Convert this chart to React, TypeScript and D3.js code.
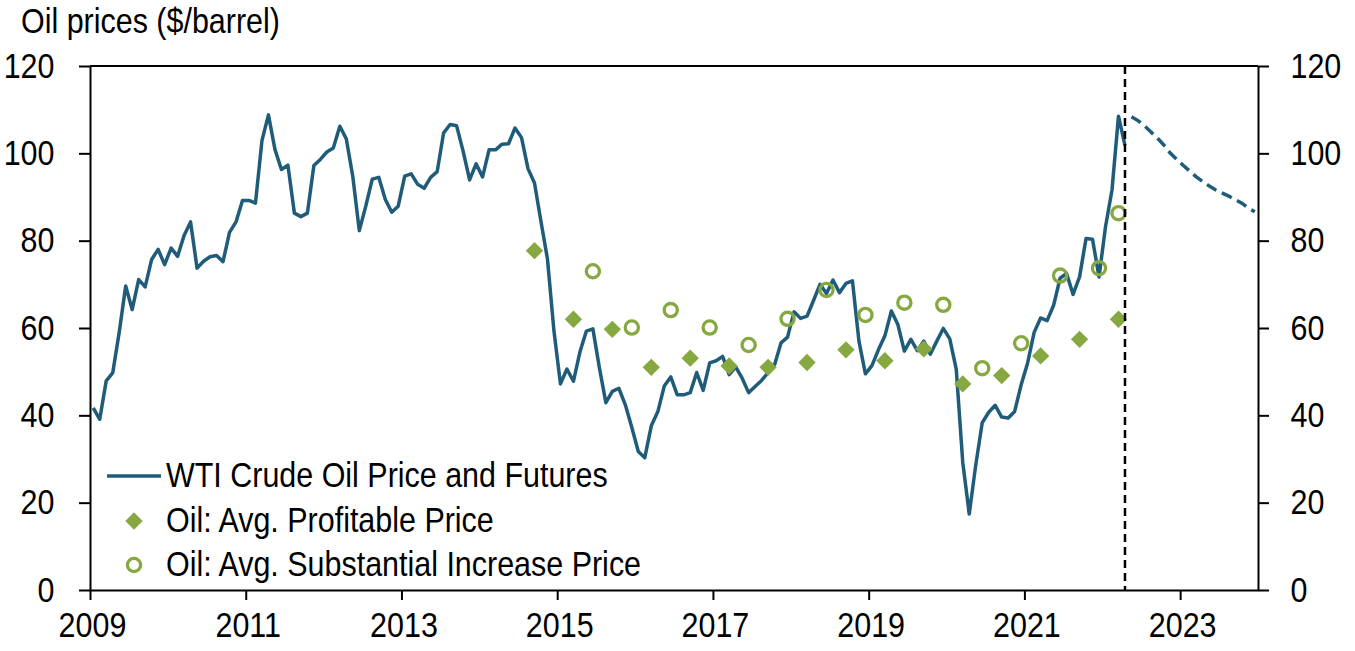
import { useRef, useEffect } from 'react'
import * as d3 from 'd3'

// WTI monthly averages, Jan 2009 .. Apr 2022 ($/barrel)
const WTI_START = 2009
const WTI = [
  41.7, 39.1, 47.9, 49.7, 59.0, 69.6, 64.2, 71.1, 69.4, 75.7, 78.0, 74.5,
  78.3, 76.4, 81.2, 84.3, 73.7, 75.3, 76.3, 76.6, 75.2, 81.9, 84.3, 89.2,
  89.2, 88.6, 102.9, 108.8, 100.9, 96.3, 97.3, 86.3, 85.5, 86.3, 97.2, 98.6,
  100.3, 101.2, 106.2, 103.3, 94.7, 82.3, 87.9, 94.1, 94.5, 89.5, 86.5, 87.9,
  94.8, 95.3, 92.9, 92.0, 94.5, 95.8, 104.7, 106.6, 106.3, 100.5, 93.9, 97.6,
  94.6, 100.8, 100.8, 102.1, 102.2, 105.8, 103.6, 96.5, 93.2, 84.4, 75.8, 59.3,
  47.2, 50.6, 47.8, 54.5, 59.3, 59.8, 50.9, 42.9, 45.5, 46.2, 42.4, 37.2,
  31.7, 30.3, 37.6, 40.8, 46.7, 48.8, 44.7, 44.7, 45.2, 49.8, 45.7, 52.0,
  52.5, 53.5, 49.3, 51.1, 48.5, 45.2, 46.6, 48.0, 49.8, 51.6, 56.6, 57.9,
  63.7, 62.2, 62.7, 66.3, 70.0, 67.9, 71.0, 68.1, 70.2, 70.8, 57.0, 49.5,
  51.4, 55.0, 58.2, 63.9, 60.8, 54.7, 57.4, 54.8, 57.0, 54.0, 57.0, 59.9,
  57.5, 50.5, 29.2, 17.4, 28.6, 38.3, 40.7, 42.3, 39.6, 39.4, 40.9, 47.0,
  52.0, 59.0, 62.3, 61.7, 65.2, 71.4, 72.5, 67.7, 71.7, 80.5, 80.3, 71.7,
  83.2, 91.6, 108.5, 101.8,
]

// futures strip, May 2022 .. Dec 2023
const FUTURES_START = '2022-05'
const FUTURES = [
  108.4, 107.5, 106.3, 104.9, 103.5, 101.9, 100.0, 98.6, 97.2, 95.9,
  94.6, 93.5, 92.5, 91.6, 90.9, 90.2, 89.4, 88.6, 87.5, 86.6,
]

const PROFIT_DATES = [
  '2014-09', '2015-03', '2015-09', '2016-03', '2016-09', '2017-03', '2017-09', '2018-03',
  '2018-09', '2019-03', '2019-09', '2020-03', '2020-09', '2021-03', '2021-09', '2022-03',
]
const PROFIT = [77.7, 62.0, 59.7, 51.0, 53.1, 51.3, 51.0, 52.1, 55.0, 52.5, 55.2, 47.2, 49.1, 53.6, 57.4, 62.0]

const INCREASE_DATES = [
  '2015-06', '2015-12', '2016-06', '2016-12', '2017-06', '2017-12', '2018-06', '2018-12',
  '2019-06', '2019-12', '2020-06', '2020-12', '2021-06', '2021-12', '2022-03',
]
const INCREASE = [73.0, 60.1, 64.1, 60.1, 56.1, 62.1, 68.7, 63.0, 65.8, 65.3, 50.8, 56.5, 72.0, 73.7, 86.3]

const FORECAST_START = '2022-04'
const YEAR_TICKS = [2009, 2011, 2013, 2015, 2017, 2019, 2021, 2023]
const Y_TICKS = [0, 20, 40, 60, 80, 100, 120]

const LEGEND = [
  'WTI Crude Oil Price and Futures',
  'Oil: Avg. Profitable Price',
  'Oil: Avg. Substantial Increase Price',
]

const W = 1355
const H = 651
const M = { top: 66, right: 97, bottom: 61, left: 90 }
const BLUE = '#1f5c7a'
const GREEN = '#86a840'
const FONT = "'Liberation Sans', Arial, sans-serif"
const FS = 35
// no narrow face installed: squeeze the regular one horizontally
const NARROW = 0.87

// 'YYYY-MM' -> decimal year at mid-month
const toYear = (s: string) => {
  const [y, m] = s.split('-').map(Number)
  return y + (m - 0.5) / 12
}

export default function App() {
  const svgRef = useRef<SVGSVGElement>(null)

  useEffect(() => {
    const svg = d3.select(svgRef.current)
    svg.selectAll('*').remove()

    const x = d3.scaleLinear().domain([2009, 2024]).range([M.left, W - M.right])
    const y = d3.scaleLinear().domain([0, 120]).range([H - M.bottom, M.top])

    const wti = WTI.map((v, i) => ({ t: WTI_START + (i + 0.5) / 12, v }))
    const f0 = toYear(FUTURES_START)
    const fut = FUTURES.map((v, i) => ({ t: f0 + i / 12, v }))

    const styleAxis = (sel: any) => {
      sel.select('.domain').attr('stroke', '#000').attr('stroke-width', 2)
      sel.selectAll('.tick line').attr('stroke', '#000').attr('stroke-width', 2)
      sel.selectAll('.tick text')
        .attr('fill', '#000')
        .attr('font-family', FONT)
        .attr('font-size', FS)
    }

    // top frame line
    svg.append('line')
      .attr('x1', M.left).attr('x2', W - M.right)
      .attr('y1', M.top).attr('y2', M.top)
      .attr('stroke', '#000').attr('stroke-width', 2)

    svg.append('g')
      .attr('transform', `translate(${M.left},0)`)
      .call(d3.axisLeft(y).tickValues(Y_TICKS).tickSize(11).tickSizeOuter(0).tickPadding(24.5))
      .call(styleAxis)

    svg.append('g')
      .attr('transform', `translate(${W - M.right},0)`)
      .call(d3.axisRight(y).tickValues(Y_TICKS).tickSize(11).tickSizeOuter(0).tickPadding(21.5))
      .call(styleAxis)

    svg.append('g')
      .attr('transform', `translate(0,${H - M.bottom})`)
      .call(d3.axisBottom(x).tickValues(YEAR_TICKS).tickFormat(d3.format('d')).tickSize(10).tickSizeOuter(0).tickPadding(11.7))
      .call(styleAxis)
      .call((sel: any) => sel.selectAll('.tick text').attr('dx', 2))

    const line = d3.line<{ t: number; v: number }>().x(d => x(d.t)).y(d => y(d.v))

    svg.append('path')
      .datum(wti)
      .attr('fill', 'none')
      .attr('stroke', BLUE)
      .attr('stroke-width', 3.5)
      .attr('stroke-linejoin', 'round')
      .attr('d', line)

    svg.append('path')
      .datum(fut)
      .attr('fill', 'none')
      .attr('stroke', BLUE)
      .attr('stroke-width', 3.5)
      .attr('stroke-dasharray', '11,6')
      .attr('d', line)

    const diamond = d3.symbol().type(d3.symbolSquare).size(150)

    svg.append('g')
      .selectAll('path')
      .data(PROFIT)
      .join('path')
      .attr('d', diamond)
      .attr('transform', (v, i) => `translate(${x(toYear(PROFIT_DATES[i]))},${y(v)}) rotate(45)`)
      .attr('fill', GREEN)

    svg.append('g')
      .selectAll('circle')
      .data(INCREASE)
      .join('circle')
      .attr('cx', (v, i) => x(toYear(INCREASE_DATES[i])))
      .attr('cy', v => y(v))
      .attr('r', 6.6)
      .attr('fill', 'none')
      .attr('stroke', GREEN)
      .attr('stroke-width', 3.3)

    // forecast divider
    const fx = x(toYear(FORECAST_START))
    svg.append('line')
      .attr('x1', fx).attr('x2', fx)
      .attr('y1', M.top).attr('y2', H - M.bottom)
      .attr('stroke', '#000')
      .attr('stroke-width', 2.5)
      .attr('stroke-dasharray', '8,5')

    // title
    svg.append('text')
      .attr('x', 21).attr('y', 33)
      .attr('font-family', FONT)
      .attr('font-size', FS)
      .text('Oil prices ($/barrel)')

    // legend
    const lg = svg.append('g')
    const rows = [476, 521, 565]
    lg.append('line')
      .attr('x1', 107).attr('x2', 161)
      .attr('y1', rows[0]).attr('y2', rows[0])
      .attr('stroke', BLUE).attr('stroke-width', 3.5)
    lg.append('path')
      .attr('d', diamond)
      .attr('transform', `translate(134,${rows[1]}) rotate(45)`)
      .attr('fill', GREEN)
    lg.append('circle')
      .attr('cx', 134).attr('cy', rows[2]).attr('r', 6.6)
      .attr('fill', 'none').attr('stroke', GREEN).attr('stroke-width', 3.3)
    lg.selectAll('text')
      .data(LEGEND)
      .join('text')
      .attr('x', 166)
      .attr('y', (d, i) => rows[i] + 10.5)
      .attr('font-family', FONT)
      .attr('font-size', FS)
      .text(d => d)

    svg.selectAll<SVGTextElement, unknown>('text').each(function () {
      const len = this.getComputedTextLength()
      d3.select(this)
        .attr('textLength', len * NARROW)
        .attr('lengthAdjust', 'spacingAndGlyphs')
    })
  }, [])

  return (
    <svg
      ref={svgRef}
      width={W}
      height={H}
      style={{ position: 'absolute', left: 0, top: 0, background: '#fff' }}
    />
  )
}
